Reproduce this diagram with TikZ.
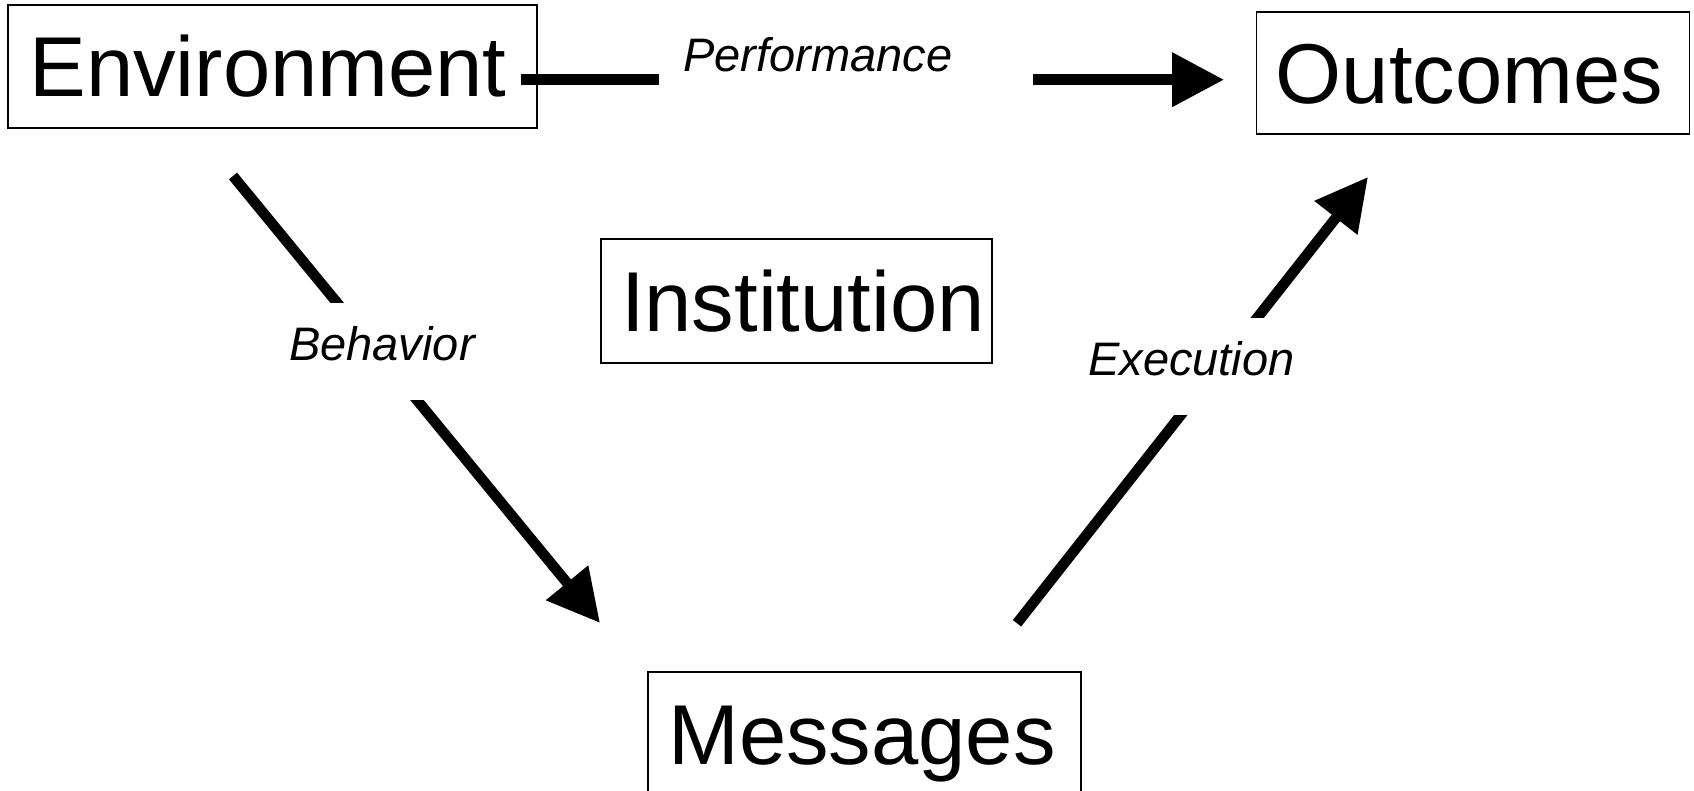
\documentclass[tikz,border=0pt]{standalone}
\usepackage{fontspec}
\setmainfont{Liberation Sans}
\usetikzlibrary{arrows.meta}
\begin{document}
\begin{tikzpicture}[x=1pt,y=-1pt,
  box/.style={draw=black, line width=1.5pt, inner sep=0pt, text height=61pt, text depth=0pt,
    font=\fontsize{85}{100}\selectfont},
  conn/.style={line width=10.5pt, line cap=butt},
  tipped/.style={conn, -{Triangle[length=52pt,width=52pt]}},
  lab/.style={fill=white, inner ysep=0pt, inner xsep=8pt, text height=57pt, text depth=40pt,
    font=\fontsize{47}{56}\selectfont\itshape}]
\useasboundingbox (0,0) rectangle (1694,791);
\fill[white] (0,0) rectangle (1694,791);
% boxes
\node[box, minimum width=529pt, minimum height=123pt] (env) at (272.5,66.5) {Environment\hspace*{9pt}};
\node[box, minimum width=433pt, minimum height=122pt] (out) at (1473,73) {Outcomes\hspace*{7pt}};
\node[box, minimum width=391pt, minimum height=124pt] (inst) at (796.5,301) {\hspace*{13pt}Institution};
\node[box, minimum width=433pt, minimum height=123pt] (msg) at (864.5,733.5) {Messages\hspace*{5pt}};
% connector ends
\coordinate (perfStart) at (520.7,79.7);
\coordinate (perfTip) at (1224,79.7);
\coordinate (behStart) at (233,176);
\coordinate (behTip) at (600,623);
\coordinate (exeStart) at (1017,623.3);
\coordinate (exeTip) at (1368,177);
% connectors
\draw[tipped] (perfStart) -- (perfTip);
\draw[tipped] (behStart) -- (behTip);
\draw[tipped] (exeStart) -- (exeTip);
% labels (mask the connectors)
\node[lab, anchor=base west, inner xsep=24pt, text width=326pt, align=left] (perf) at (659,72) {Performance};
\node[lab, anchor=base] (beh) at (382,360) {Behavior};
\node[lab, anchor=base] (exe) at (1191.5,375) {Execution};
\end{tikzpicture}
\end{document}
